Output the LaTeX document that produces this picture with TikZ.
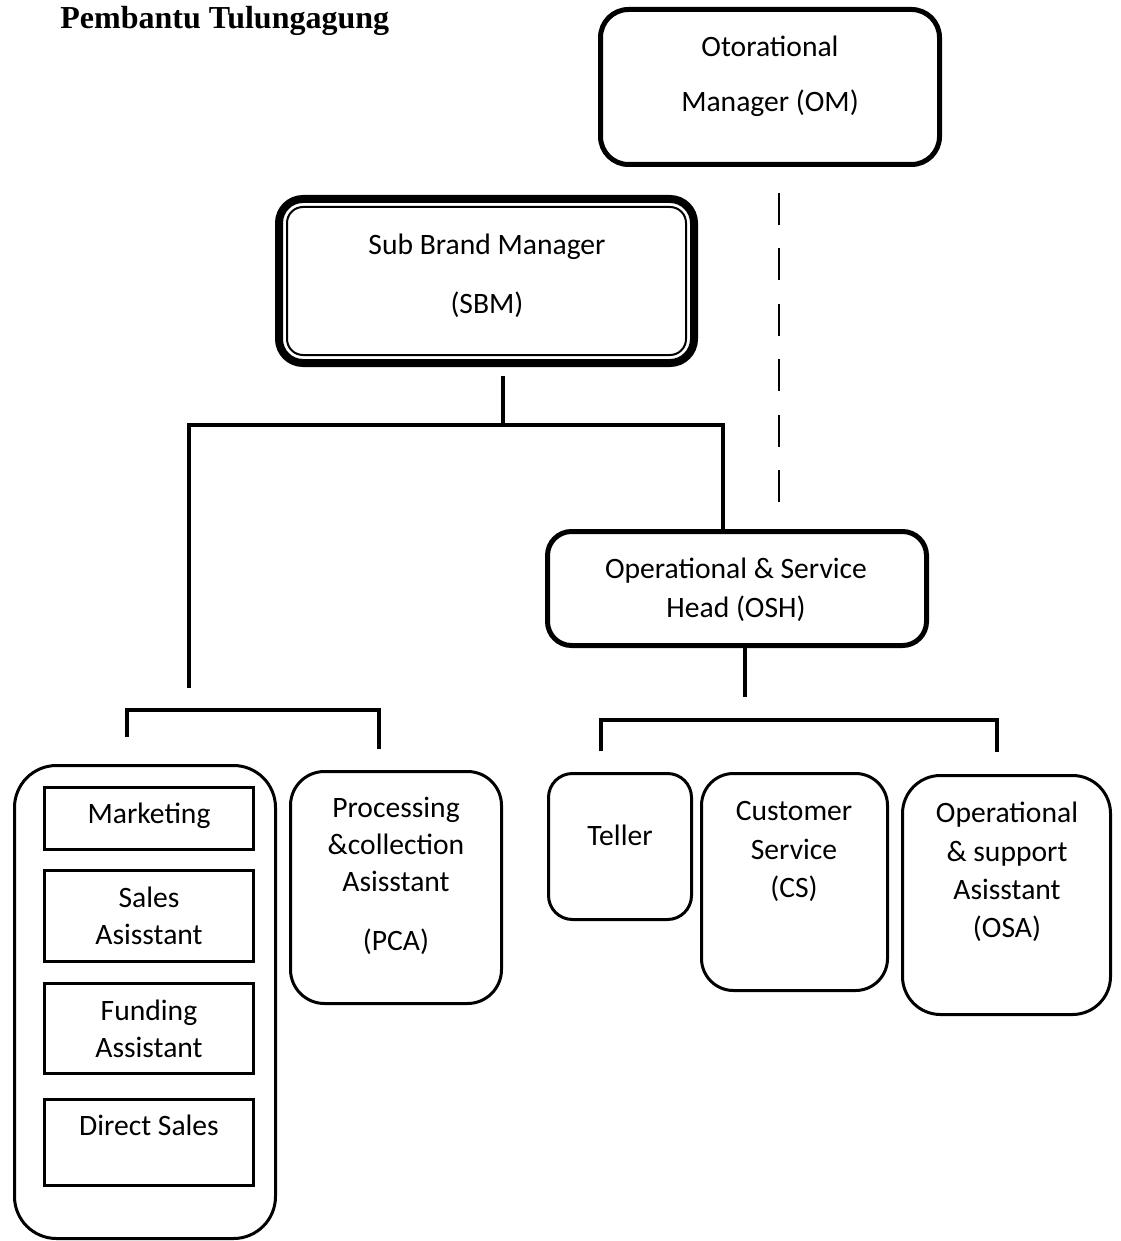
\documentclass[tikz,border=0pt]{standalone}
\usepackage{fontspec}
\setmainfont{Carlito}
\newfontfamily\titlefont{Liberation Serif}
\begin{document}
\begin{tikzpicture}[x=0.5pt,y=-0.5pt]
\tikzset{
  boxbase/.style={draw, rectangle, inner sep=0pt, outer sep=0pt},
  headbox/.style={boxbase, line width=2.5pt, rounded corners=14pt},
  unitbox/.style={boxbase, line width=1.5pt},
  txt/.style={anchor=base, inner sep=0pt, font=\fontsize{14.8}{17}\selectfont},
  conn/.style={line width=2pt},
  dashconn/.style={line width=1pt, dash pattern=on 16pt off 11.7pt},
}
\useasboundingbox (0,0) rectangle (1120,1241);

% title
\node[anchor=base west, inner sep=0pt, font=\titlefont\bfseries\fontsize{16}{19}\selectfont] (title) at (60,29) {Pembantu Tulungagung};

% boxes
\node[headbox, minimum width=169.5pt, minimum height=77.5pt] (om) at (770,87) {};
\node[boxbase, line width=4pt, rounded corners=12pt, minimum width=207.5pt, minimum height=82pt] (sbm) at (486.5,281) {};
\node[boxbase, line width=1pt, rounded corners=8pt, minimum width=199.5pt, minimum height=74pt] (sbmin) at (486.5,281) {};
\node[headbox, rounded corners=12pt, minimum width=189.5pt, minimum height=57pt] (osh) at (737,588.5) {};

\node[unitbox, rounded corners=21pt, minimum width=130.5pt, minimum height=236.5pt] (grp) at (145,1002) {};
\node[unitbox, minimum width=104.5pt, minimum height=31pt] (mkt) at (149,818.5) {};
\node[unitbox, minimum width=104.5pt, minimum height=45.5pt] (sa) at (149,916) {};
\node[unitbox, minimum width=104.5pt, minimum height=45pt] (fa) at (149,1028.5) {};
\node[unitbox, minimum width=104.5pt, minimum height=43pt] (ds) at (149,1142.5) {};
\node[unitbox, rounded corners=17pt, minimum width=105.5pt, minimum height=116pt] (pca) at (396,887.5) {};
\node[unitbox, rounded corners=12pt, minimum width=71.5pt, minimum height=73pt] (tel) at (620,846.5) {};
\node[unitbox, rounded corners=16pt, minimum width=93pt, minimum height=108.5pt] (cs) at (794.5,882) {};
\node[unitbox, rounded corners=19pt, minimum width=104pt, minimum height=119.5pt] (osa) at (1006.5,895) {};

% texts
\node[txt] (omt1) at (770,57) {Otorational};
\node[txt] (omt2) at (770,112) {Manager (OM)};
\node[txt] (sbmt1) at (487,255) {Sub Brand Manager};
\node[txt] (sbmt2) at (487,313) {(SBM)};
\node[txt] (osht1) at (736,578) {Operational \& Service};
\node[txt] (osht2) at (736,617) {Head (OSH)};
\node[txt] (mktt) at (149,823) {Marketing};
\node[txt] (sat1) at (149,907) {Sales};
\node[txt] (sat2) at (149,944) {Asisstant};
\node[txt] (fat1) at (149,1020) {Funding};
\node[txt] (fat2) at (149,1057) {Assistant};
\node[txt] (dst) at (149,1135) {Direct Sales};
\node[txt] (pcat1) at (396,817) {Processing};
\node[txt] (pcat2) at (396,854) {\&collection};
\node[txt] (pcat3) at (396,891) {Asisstant};
\node[txt] (pcat4) at (396,950) {(PCA)};
\node[txt] (telt) at (620,845) {Teller};
\node[txt] (cst1) at (794,820) {Customer};
\node[txt] (cst2) at (794,859) {Service};
\node[txt] (cst3) at (794,897) {(CS)};
\node[txt] (osat1) at (1007,822) {Operational};
\node[txt] (osat2) at (1007,861) {\& support};
\node[txt] (osat3) at (1007,899) {Asisstant};
\node[txt] (osat4) at (1007,937) {(OSA)};

% connector points
\coordinate (sbmdrop) at (503,376);
\coordinate (jt) at (503,425);
\coordinate (jl) at (189,425);
\coordinate (jr) at (723,425);
\coordinate (lend) at (189,688);
\coordinate (oshdrop) at (745,697);
\coordinate (lb1) at (127,737);
\coordinate (lb1t) at (127,710);
\coordinate (lb2t) at (379,710);
\coordinate (lb2) at (379,749);
\coordinate (rb1) at (601,751);
\coordinate (rb1t) at (601,720);
\coordinate (rb2t) at (997,720);
\coordinate (rb2) at (997,752);
\coordinate (dtop) at (779,193);
\coordinate (dbot) at (779,502);

% connectors
\draw[conn] (sbmdrop) -- (jt);
\draw[conn] (lend) -- (jl) -- (jr) -- (jr |- osh.north);
\draw[conn] (osh.south -| oshdrop) -- (oshdrop);
\draw[conn] (lb1) -- (lb1t) -- (lb2t) -- (lb2);
\draw[conn] (rb1) -- (rb1t) -- (rb2t) -- (rb2);
\draw[dashconn] (dtop) -- (dbot);
\end{tikzpicture}
\end{document}
